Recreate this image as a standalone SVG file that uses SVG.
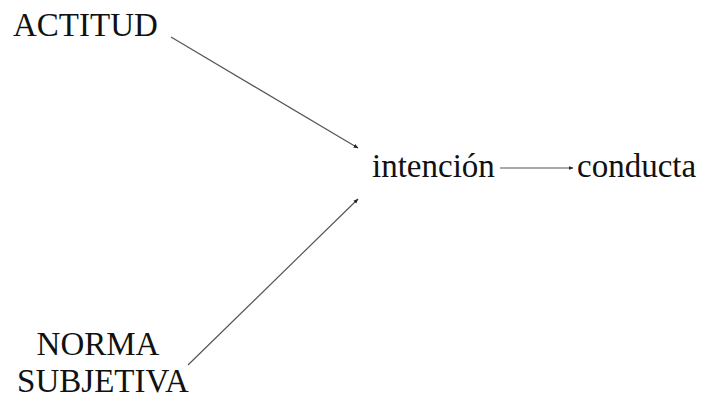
<svg xmlns="http://www.w3.org/2000/svg" width="701" height="400" viewBox="0 0 701 400">
  <style>
    .lbl { font-family: "Liberation Serif", "Times New Roman", serif; font-size: 33px; fill: #111; }
    .edge { stroke: #555; stroke-width: 1.2; fill: none; marker-end: url(#tip); }
  </style>
  <defs>
    <marker id="tip" viewBox="0 0 10 10" refX="9" refY="5" markerWidth="5" markerHeight="5" markerUnits="userSpaceOnUse" orient="auto">
      <path d="M0,1 L10,5 L0,9 z" fill="#222"/>
    </marker>
  </defs>
  <rect width="701" height="400" fill="#fff"/>
  <g id="connectors">
    <line class="edge" x1="171" y1="37" x2="358" y2="148"/>
    <line class="edge" x1="188" y1="365" x2="358" y2="199"/>
    <line class="edge" x1="500" y1="168" x2="573" y2="168"/>
  </g>
  <g id="actitud">
    <text class="lbl" x="13" y="36">ACTITUD</text>
  </g>
  <g id="norma-subjetiva">
    <text class="lbl" x="98" y="355" text-anchor="middle">NORMA</text>
    <text class="lbl" x="103" y="392" text-anchor="middle">SUBJETIVA</text>
  </g>
  <g id="intencion">
    <text class="lbl" x="372" y="177">intención</text>
  </g>
  <g id="conducta">
    <text class="lbl" x="577" y="177">conducta</text>
  </g>
</svg>
